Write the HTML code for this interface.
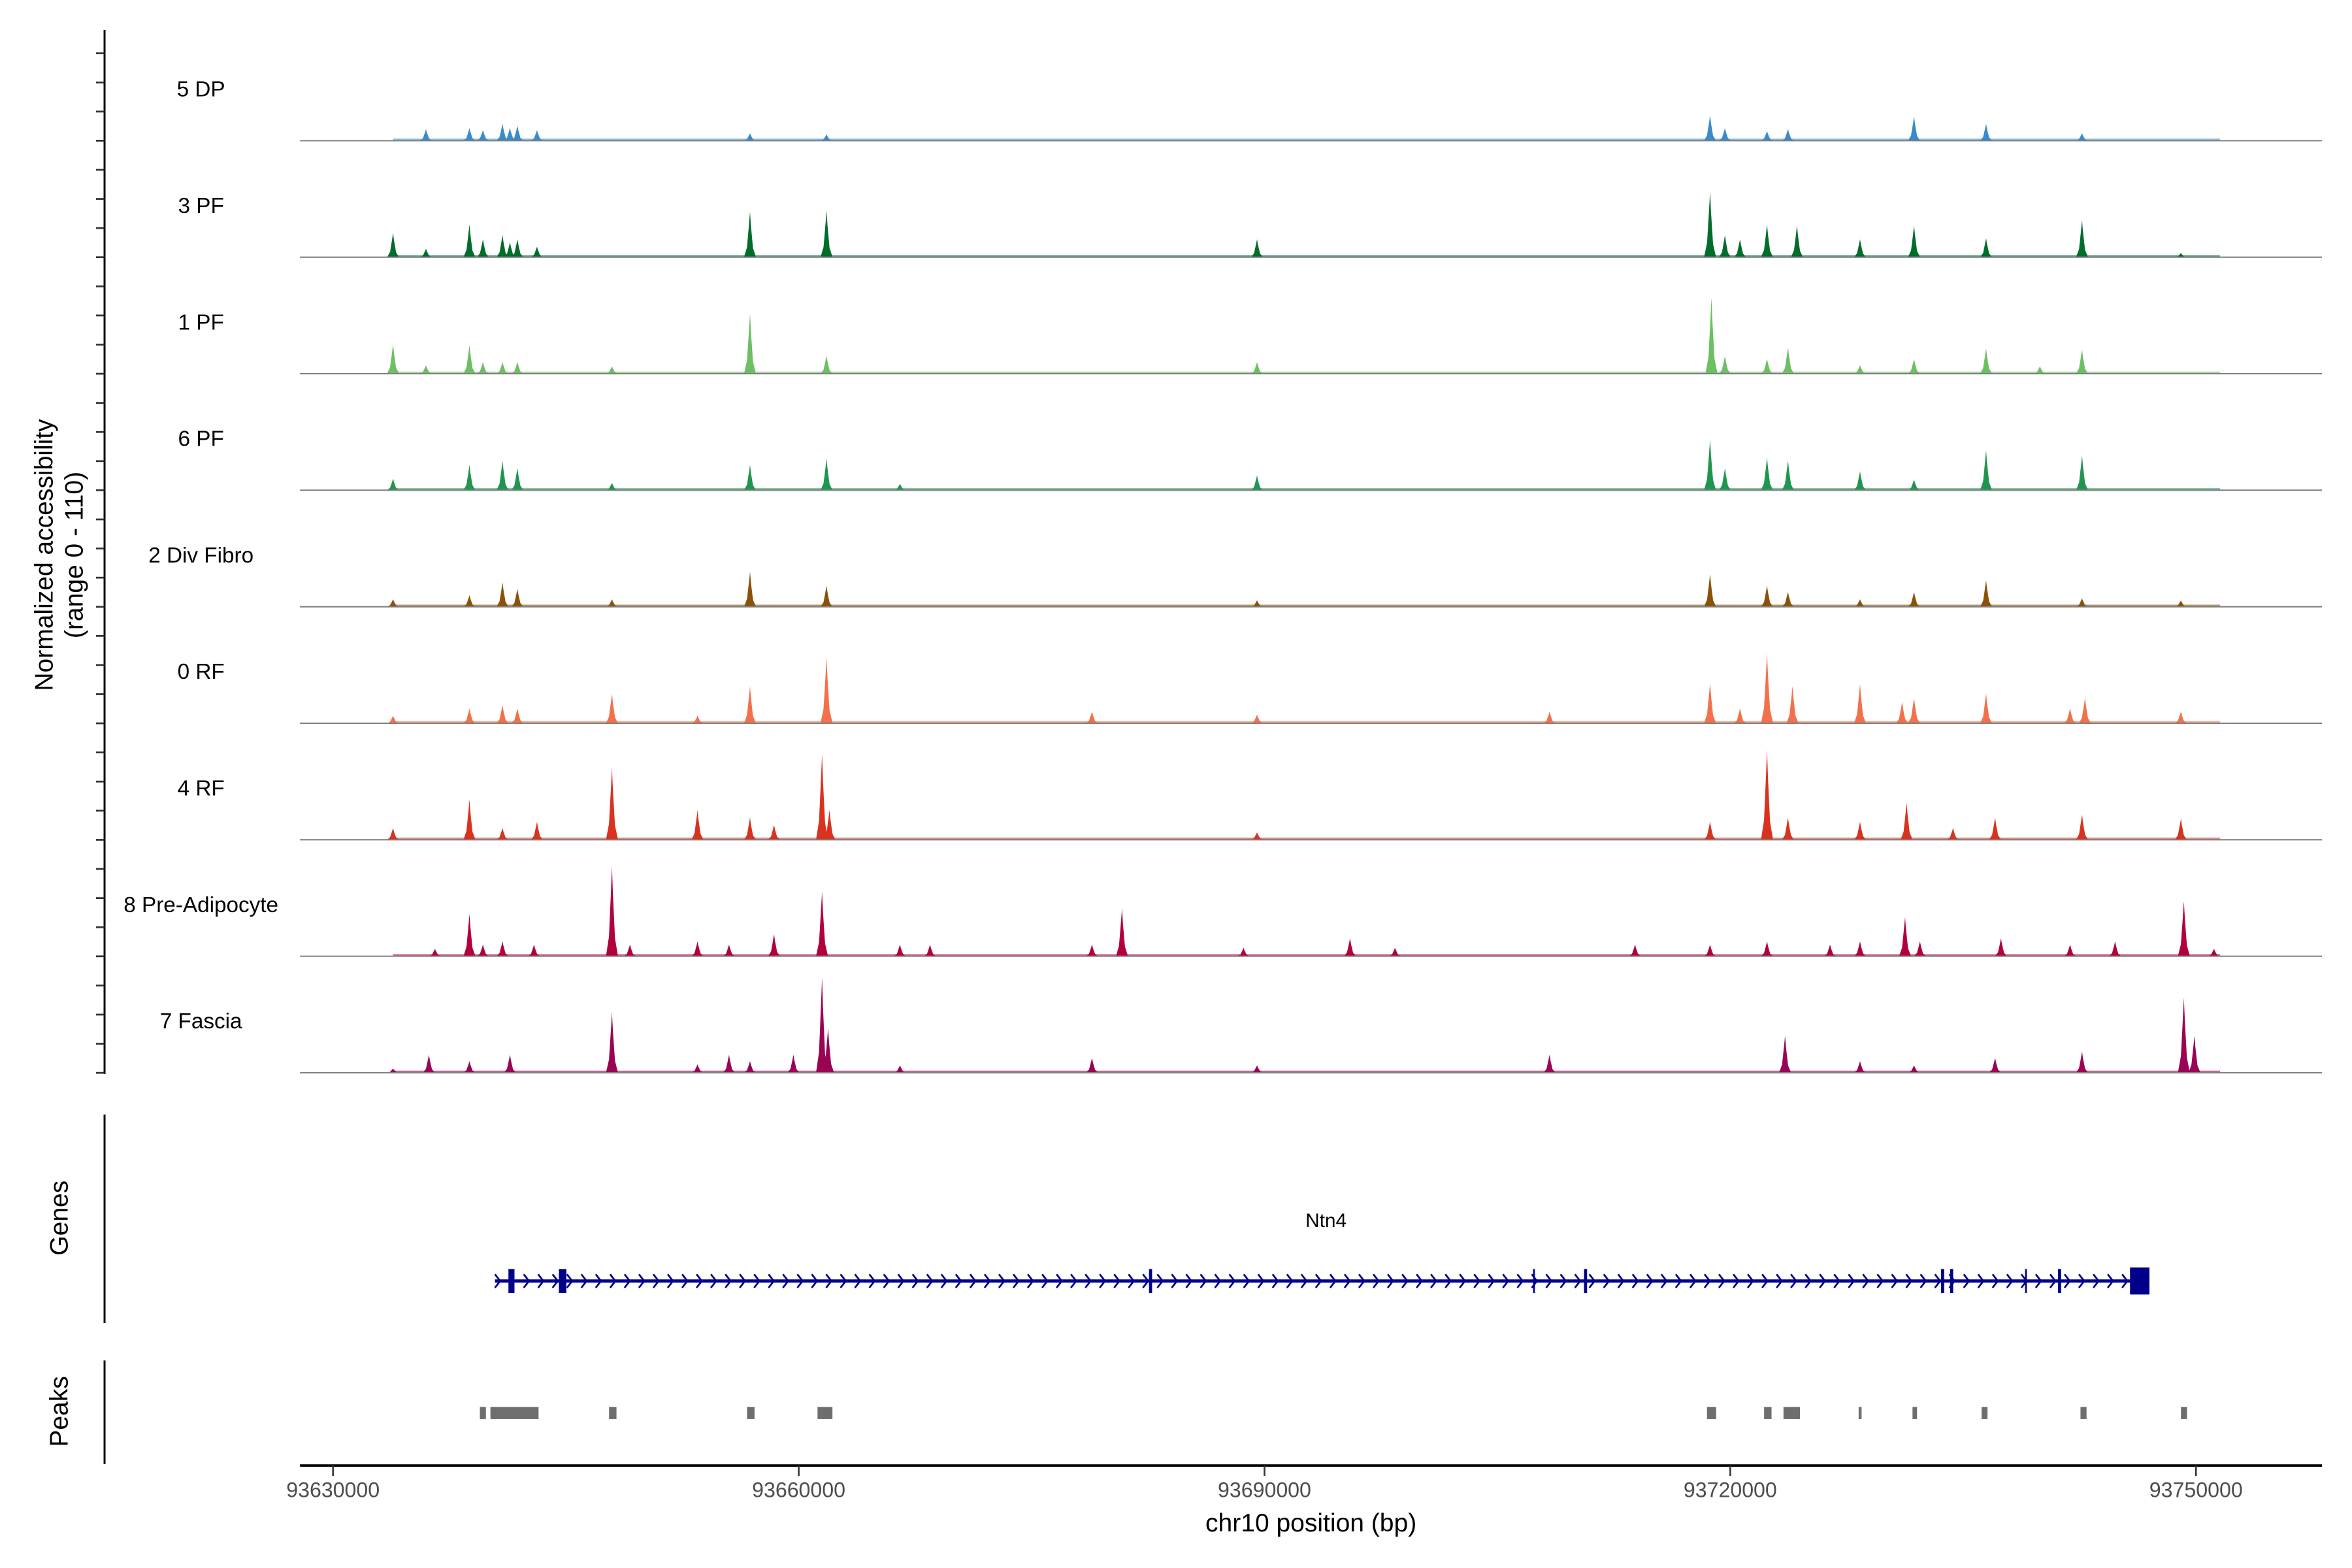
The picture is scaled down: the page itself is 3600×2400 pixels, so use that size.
<!DOCTYPE html>
<html><head><meta charset="utf-8"><style>
html,body{margin:0;padding:0;background:#fff;}
svg{display:block;font-family:"Liberation Sans",Arial,sans-serif;}
</style></head><body>
<svg id="chart" width="3600" height="2400" viewBox="0 0 1568 1045.33" xmlns="http://www.w3.org/2000/svg">
<rect width="1568" height="1045.33" fill="#fff"/>
<g id="tracks"></g>
<g id="left">
<line x1="69.7" y1="20" x2="69.7" y2="716" stroke="#000" stroke-width="1.3"/>
<g id="yticks"></g>
<text transform="translate(35,370) rotate(-90)" text-anchor="middle" font-size="17">Normalized accessibility</text>
<text transform="translate(55,370) rotate(-90)" text-anchor="middle" font-size="17">(range 0 - 110)</text>
<line x1="69.7" y1="743" x2="69.7" y2="882" stroke="#000" stroke-width="1.3"/>
<text transform="translate(45,812) rotate(-90)" text-anchor="middle" font-size="17">Genes</text>
<line x1="69.7" y1="907" x2="69.7" y2="976" stroke="#000" stroke-width="1.3"/>
<text transform="translate(45,941) rotate(-90)" text-anchor="middle" font-size="17">Peaks</text>
</g>
<g id="genes"></g>
<g id="peaks"></g>
<g id="xaxis">
<line x1="200" y1="977" x2="1548" y2="977" stroke="#000" stroke-width="1.6"/>
</g>
<text x="874" y="1021" text-anchor="middle" font-size="17">chr10 position (bp)</text>
</svg>
<script>
const trackNames = ["5 DP","3 PF","1 PF","6 PF","2 Div Fibro","0 RF","4 RF","8 Pre-Adipocyte","7 Fascia"];
const trackColors = ["#3a8bc8","#006d2c","#6cbf62","#1f9650","#8c5109","#f4704a","#d9321f","#b2003d","#990454"];
const xTicks = [93630000,93660000,93690000,93720000,93750000];
const peaksDP = [[93635990,11],[93638790,12],[93639660,10],[93640920,16],[93641400,12],[93641880,14],[93643140,10],[93656860,7],[93661790,6],[93718700,24],[93719660,12],[93722370,9],[93723720,11],[93731840,23],[93736480,16],[93742660,7]];
const peaks3PF = [[93633870,23],[93635990,8],[93638790,31],[93639660,17],[93640920,21],[93641400,14],[93641880,17],[93643140,10],[93656860,43],[93661790,44],[93689520,17],[93718700,62],[93719660,21],[93720630,17],[93722370,31],[93724300,30],[93728360,17],[93731840,30],[93736480,18],[93742660,35],[93749030,4]];
const peaks1PF = [[93633870,28],[93635990,8],[93638790,27],[93639660,11],[93640920,11],[93641880,11],[93647970,7],[93656860,57],[93661790,17],[93689520,11],[93718790,72],[93719660,17],[93722370,14],[93723720,25],[93728360,8],[93731840,14],[93736480,24],[93739950,7],[93742660,23]];
const peaks6PF = [[93633870,11],[93638790,24],[93640920,28],[93641880,21],[93647970,7],[93656860,24],[93661790,30],[93666520,6],[93689520,14],[93718700,48],[93719660,21],[93722370,31],[93723720,28],[93728360,18],[93731840,10],[93736480,38],[93742660,33]];
const peaksDiv = [[93633870,7],[93638790,11],[93640920,23],[93641880,17],[93647970,7],[93656860,33],[93661790,20],[93689520,6],[93718700,31],[93722370,20],[93723720,14],[93728360,7],[93731840,14],[93736480,25],[93742660,8],[93749030,6]];
const peaks0RF = [[93633870,7],[93638790,14],[93640920,17],[93641880,14],[93647970,28],[93653480,7],[93656860,35],[93661790,62],[93678890,11],[93689520,8],[93708360,11],[93718700,38],[93720630,14],[93722370,66],[93724010,35],[93728360,37],[93731070,20],[93731840,24],[93736480,28],[93741890,14],[93742850,24],[93749030,11]];
const peaks4RF = [[93633870,11],[93638790,38],[93640920,11],[93643140,17],[93647970,68],[93653480,28],[93656860,21],[93658410,14],[93661500,81],[93661980,28],[93689520,7],[93718700,17],[93722370,85],[93723720,21],[93728360,17],[93731360,35],[93734350,11],[93737060,21],[93742660,24],[93749030,20]];
const peaksPre = [[93636570,7],[93638790,40],[93639660,11],[93640920,14],[93642950,11],[93647970,85],[93649130,11],[93653480,14],[93655510,11],[93658410,21],[93661500,61],[93666520,11],[93668460,11],[93678890,11],[93680820,45],[93688650,8],[93695510,17],[93698410,8],[93713870,11],[93718700,11],[93722370,14],[93726430,11],[93728360,14],[93731260,37],[93732220,14],[93737440,17],[93741890,11],[93744790,14],[93749220,52],[93751160,7]];
const peaksFascia = [[93633870,4],[93636180,17],[93638790,11],[93641400,17],[93647970,57],[93653480,8],[93655510,17],[93656860,11],[93659660,17],[93661500,90],[93661890,42],[93666520,7],[93678890,14],[93689520,7],[93708360,17],[93723530,35],[93728360,11],[93731840,7],[93737060,14],[93742660,20],[93749220,71],[93749900,35]];
const allPeaks = [peaksDP,peaks3PF,peaks1PF,peaks6PF,peaksDiv,peaks0RF,peaks4RF,peaksPre,peaksFascia];
const geneStart = 93640430, geneEnd = 93746900;
const exonStarts = [93641300,93644550,93682560,93707300,93710580,93733580,93734160,93738990,93741110,93745750];
const exonEnds   = [93641690,93645030,93682760,93707400,93710780,93733780,93734360,93739090,93741310,93747000];
const peakStarts = [93639460,93640140,93647780,93656670,93661210,93718500,93722180,93723430,93728270,93731740,93736190,93742560,93749030];
const peakEnds   = [93639850,93643240,93648260,93657150,93662170,93719090,93722660,93724490,93728460,93732030,93736570,93742950,93749420];

const NS="http://www.w3.org/2000/svg";
function mk(tag,attrs,parent){const e=document.createElementNS(NS,tag);for(const k in attrs)e.setAttribute(k,attrs[k]);parent.appendChild(e);return e;}
const xScale = bp => 222 + (bp-93630000)/30000*310.5;
const baseY = i => 93.8 + i*77.67;
const yScale = v => v*77.67/110;

const tracks=document.getElementById('tracks');
allPeaks.forEach((pk,i)=>{
  const g=mk('g',{},tracks);
  
  
  const lab=mk('text',{x:134,y:baseY(i)-29.5,'text-anchor':'middle','font-size':14.5,fill:'#000'},g);
  lab.textContent=trackNames[i];
  
  
  const b=baseY(i);
  let d='';
  pk.forEach(p=>{
    const x=xScale(p[0]), h=yScale(p[1]), hw=4;
    d+=`M${x-hw},${b} L${x-hw*0.5},${b-h*0.22} L${x-hw*0.15},${b-h*0.75} L${x},${b-h} L${x+hw*0.15},${b-h*0.7} L${x+hw*0.5},${b-h*0.2} L${x+hw},${b} Z `;
  });
  const path=mk('path',{d:d,fill:trackColors[i]},g);
  
  
  const bl=mk('rect',{x:xScale(93633865),y:b-1.4,width:xScale(93751550)-xScale(93633865),height:1.4,fill:trackColors[i],opacity:0.6},g);
  
  
  const ln=mk('line',{x1:200,x2:1548,y1:b,y2:b,stroke:'#808080','stroke-width':0.9},g);
  
  
});
const yt=document.getElementById('yticks');
for(let k=0;k<37;k++){
  const y=baseY(0)-3*19.42+k*19.42;
  if(y<20||y>716)continue;
  const t=mk('line',{x1:64,x2:69.7,y1:y,y2:y,stroke:'#333','stroke-width':1.2},yt);
  
  
}
const gg=document.getElementById('genes');
const gl=mk('text',{x:884,y:818,'text-anchor':'middle','font-size':13},gg);
gl.textContent='Ntn4';


const gx1=xScale(geneStart), gx2=xScale(geneEnd);
const gline=mk('line',{x1:gx1,x2:gx2,y1:854,y2:854,stroke:'#00008b','stroke-width':2.2},gg);


let cd='';
for(let x=gx1;x<gx2-8;x+=9.6){cd+=`M${x},849.5 L${x+3.5},854 L${x},858.5 `;}
const chev=mk('path',{d:cd,stroke:'#00008b','stroke-width':1.2,fill:'none'},gg);


exonStarts.forEach((s,i)=>{
  const big = i===exonStarts.length-1;
  const r=mk('rect',{x:xScale(s),y:big?845:846,width:Math.max(1.2,xScale(exonEnds[i])-xScale(s)),height:big?18:16,fill:'#00008b'},gg);
  
  
});
const pg=document.getElementById('peaks');
peakStarts.forEach((s,i)=>{
  const r=mk('rect',{x:xScale(s),y:938,width:xScale(peakEnds[i])-xScale(s),height:8,fill:'#6e6e6e'},pg);
  
  
});
const xa=document.getElementById('xaxis');
xTicks.forEach(v=>{
  const x=xScale(v);
  const t=mk('line',{x1:x,x2:x,y1:977,y2:984,stroke:'#333','stroke-width':1.1},xa);
  
  
  const l=mk('text',{x:x,y:998,'text-anchor':'middle','font-size':14,fill:'#4d4d4d'},xa);
  l.textContent=v;
  
  
});
</script>
</body></html>
